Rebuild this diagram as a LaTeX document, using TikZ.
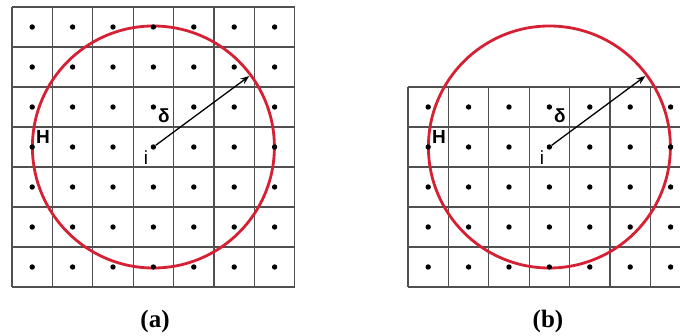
\documentclass[tikz,border=0pt]{standalone}
\usepackage{fontspec}
\setmainfont{Liberation Serif}
\newfontfamily\lblfont{Liberation Sans}
\usetikzlibrary{arrows.meta}
\definecolor{circred}{RGB}{214,32,52}
\definecolor{gridgray}{RGB}{80,80,80}
\begin{document}
\begin{tikzpicture}[x=1pt,y=-1pt,
  gridline/.style={draw=gridgray,line width=1.2pt},
  dotpt/.style={circle,fill=black,inner sep=0pt,minimum size=5.4pt},
  ring/.style={draw=circred,line width=2.8pt},
  radarrow/.style={-{Stealth[length=9pt,width=6.5pt]},line width=1.3pt,draw=black},
  lbl/.style={font=\lblfont\fontsize{19}{19}\selectfont,inner sep=0pt},
  lblb/.style={font=\lblfont\fontsize{19}{19}\selectfont\bfseries,inner sep=0pt},
  caplbl/.style={font=\fontsize{25}{25}\selectfont\bfseries,inner sep=0pt}]
\useasboundingbox (0,0) rectangle (680,336);
\def\cw{40.4}
\def\ch{40}
% ---------- grid (a) ----------
\foreach \k in {0,...,7} {
  \draw[gridline] ({12+\k*\cw},7) -- ({12+\k*\cw},287);
  \draw[gridline] (12,{7+\k*\ch}) -- ({12+7*\cw},{7+\k*\ch});
}
\coordinate (ca) at ({12+3.5*\cw},147);
\draw[ring] (ca) circle[radius=121];
\foreach \c in {0,...,6} \foreach \r in {0,...,6}
  \node[dotpt] (a-\c-\r) at ({12+(\c+0.5)*\cw},{7+(\r+0.5)*\ch}) {};
\coordinate (tipa) at ({12+3.5*\cw+96},76);
\draw[radarrow] (a-3-3) -- (tipa);
\node[lblb] (Ha) at (43,137) {H};
\node[lbl] (ia) at (146,158) {i};
\node[lblb] (da) at (164,116) {δ};
\node[caplbl] (capa) at (155,321) {(a)};
% ---------- grid (b) ----------
\begin{scope}
\clip (400,0) rectangle (680,336);
\foreach \k in {0,...,6}
  \draw[gridline] ({408+\k*\cw},87) -- ({408+\k*\cw},287);
\foreach \k in {0,...,5}
  \draw[gridline] (408,{87+\k*\ch}) -- (690,{87+\k*\ch});
\coordinate (cb) at ({408+3.5*\cw},147);
\draw[ring] (cb) circle[radius=121];
\foreach \c in {0,...,6} \foreach \r in {0,...,4}
  \node[dotpt] (b-\c-\r) at ({408+(\c+0.5)*\cw},{87+(\r+0.5)*\ch}) {};
\coordinate (tipb) at ({408+3.5*\cw+96},76);
\draw[radarrow] (b-3-1) -- (tipb);
\end{scope}
\node[lblb] (Hb) at (439,137) {H};
\node[lbl] (ib) at (542,158) {i};
\node[lblb] (db) at (560,116) {δ};
\node[caplbl] (capb) at (548,321) {(b)};
\end{tikzpicture}
\end{document}
